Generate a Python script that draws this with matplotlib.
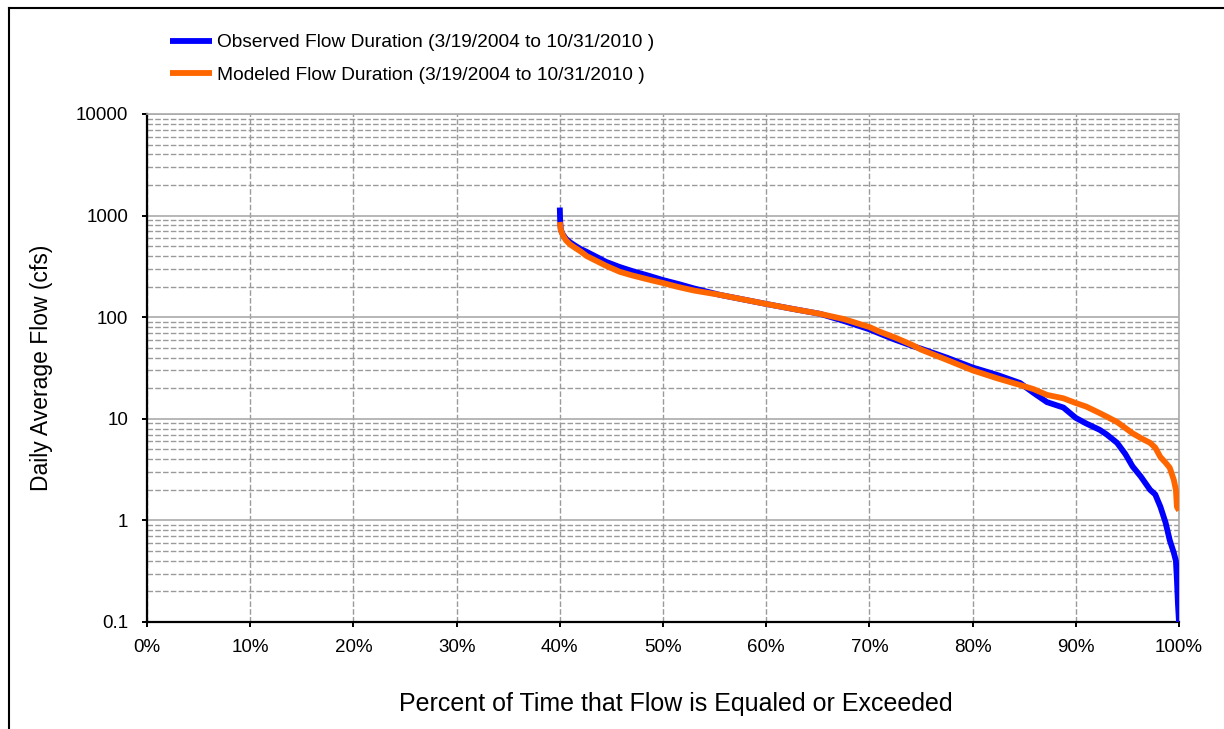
import matplotlib
matplotlib.use("Agg")
import matplotlib.pyplot as plt
from matplotlib.lines import Line2D
from matplotlib.ticker import FixedLocator, NullFormatter

plt.rcParams['font.family'] = ['Liberation Sans', 'DejaVu Sans']

# ---- data (percent of time exceeded, flow in cfs) ----
obs_pct = [40.0, 40.03, 40.1, 40.3, 40.6, 41.0, 41.5, 42.0, 42.6, 43.5, 44.5, 45.8, 47.0,
           48.5, 50.0, 51.5, 53.0, 55.5, 58.0, 60.0, 62.5, 65.2, 67.5, 70.0, 71.0, 72.5,
           74.2, 75.0, 77.5, 80.0, 82.4, 84.6, 85.9, 87.2, 88.8, 90.0, 91.0, 92.3, 93.0,
           94.0, 94.8, 95.5, 96.3, 97.2, 97.7, 98.2, 98.7, 99.1, 99.5, 99.7, 99.8, 99.9, 100.0]
obs_flow = [1200, 900, 720, 650, 590, 545, 505, 470, 440, 395, 350, 312, 285,
            258, 232, 212, 192, 166, 148, 135, 121, 108, 92, 76, 69, 60,
            52, 49, 40, 32, 27, 22.5, 18, 14.6, 12.9, 10.2, 9.0, 7.8, 7.0,
            5.8, 4.5, 3.4, 2.7, 2.0, 1.8, 1.36, 0.95, 0.64, 0.48, 0.40, 0.26, 0.15, 0.1]

mod_pct = [40.0, 40.1, 40.3, 40.6, 41.0, 41.5, 42.0, 42.6, 43.5, 44.5, 45.8, 47.0, 48.5,
           50.0, 51.5, 53.0, 55.5, 58.0, 60.0, 62.5, 65.2, 67.5, 70.0, 71.0, 72.5, 74.2,
           75.0, 77.5, 80.0, 82.4, 84.6, 85.9, 87.2, 88.8, 90.0, 91.0, 92.3, 93.0, 94.0,
           95.5, 96.5, 97.2, 97.7, 98.2, 98.7, 99.1, 99.5, 99.7, 99.8, 100.0]
mod_flow = [865, 720, 640, 570, 520, 480, 445, 400, 360, 320, 280, 258, 236,
            217, 198, 183, 166, 148, 135, 121, 108, 96, 80, 72, 63, 53,
            48, 38, 30, 25, 21.5, 19.6, 17.2, 15.9, 14.3, 13.2, 11.4, 10.5, 9.3,
            7.2, 6.3, 5.8, 5.2, 4.2, 3.7, 3.3, 2.5, 2.0, 1.36, 1.25]

x_ticks = [0, 10, 20, 30, 40, 50, 60, 70, 80, 90, 100]
x_tick_labels = ['0%', '10%', '20%', '30%', '40%', '50%', '60%', '70%', '80%', '90%', '100%']
y_ticks = [0.1, 1, 10, 100, 1000, 10000]
y_tick_labels = ['0.1', '1', '10', '100', '1000', '10000']

obs_label = 'Observed Flow Duration (3/19/2004 to 10/31/2010 )'
mod_label = 'Modeled Flow Duration (3/19/2004 to 10/31/2010 )'

# ---- figure ----
W, H = 1224, 729
fig = plt.figure(figsize=(W / 100, H / 100), dpi=100)
ax = fig.add_axes([147 / W, 1 - 622 / H, (1179 - 147) / W, (622 - 114) / H])

ax.set_yscale('log')
ax.set_xlim(0, 100)
ax.set_ylim(0.1, 10000)

grid_col = '#9a9a9a'
ax.yaxis.set_major_locator(FixedLocator(y_ticks))
ax.set_yticklabels(y_tick_labels)
minor = [m * 10.0 ** e for e in range(-1, 4) for m in range(2, 10)]
ax.yaxis.set_minor_locator(FixedLocator(minor))
ax.yaxis.set_minor_formatter(NullFormatter())
ax.set_xticks(x_ticks)
ax.set_xticklabels(x_tick_labels)

ax.grid(True, which='major', axis='y', color='#aaaaaa', linestyle='-', linewidth=1.2)
ax.grid(True, which='minor', axis='y', color=grid_col, linestyle=(0, (4, 1.6)), linewidth=1.0)
ax.grid(True, which='major', axis='x', color=grid_col, linestyle=(0, (4, 1.6)), linewidth=1.0)
ax.set_axisbelow(True)

ax.plot(obs_pct, obs_flow, color='#0000ff', linewidth=4.2, solid_capstyle='butt',
        label=obs_label, zorder=3)
ax.plot(mod_pct, mod_flow, color='#ff6600', linewidth=4.2, solid_capstyle='butt',
        label=mod_label, zorder=4)

for s in ['top', 'right']:
    ax.spines[s].set_color('#aaaaaa')
    ax.spines[s].set_linewidth(1.2)
for s in ['left', 'bottom']:
    ax.spines[s].set_color('black')
    ax.spines[s].set_linewidth(1.6)

ax.tick_params(axis='y', which='major', direction='out', length=3.6, width=1.4,
               pad=10, labelsize=13.5, colors='black')
ax.tick_params(axis='y', which='minor', length=0)
ax.tick_params(axis='x', which='major', direction='out', length=3.6, width=1.4,
               pad=9, labelsize=13.5, colors='black')

ax.set_ylabel('Daily Average Flow (cfs)', fontsize=16.5)
ax.yaxis.set_label_coords(-0.091, 0.5)
ax.set_xlabel('Percent of Time that Flow is Equaled or Exceeded', fontsize=18)
ax.xaxis.set_label_coords(0.5126, -0.138)

fig.legend(loc='upper left', bbox_to_anchor=(170 / W, 1 - 34 / H), frameon=False,
           fontsize=13.8, handlelength=2.2, handletextpad=0.25, borderpad=0,
           borderaxespad=0, labelspacing=0.8)

# outer chart frame (open at right/bottom as in the reference crop)
fig.add_artist(Line2D([9 / W, 9 / W], [0, 1 - 8 / H], transform=fig.transFigure,
                      color='black', linewidth=1.5))
fig.add_artist(Line2D([9 / W, 1], [1 - 8 / H, 1 - 8 / H], transform=fig.transFigure,
                      color='black', linewidth=1.5))

fig.savefig('out.png', dpi=100)
